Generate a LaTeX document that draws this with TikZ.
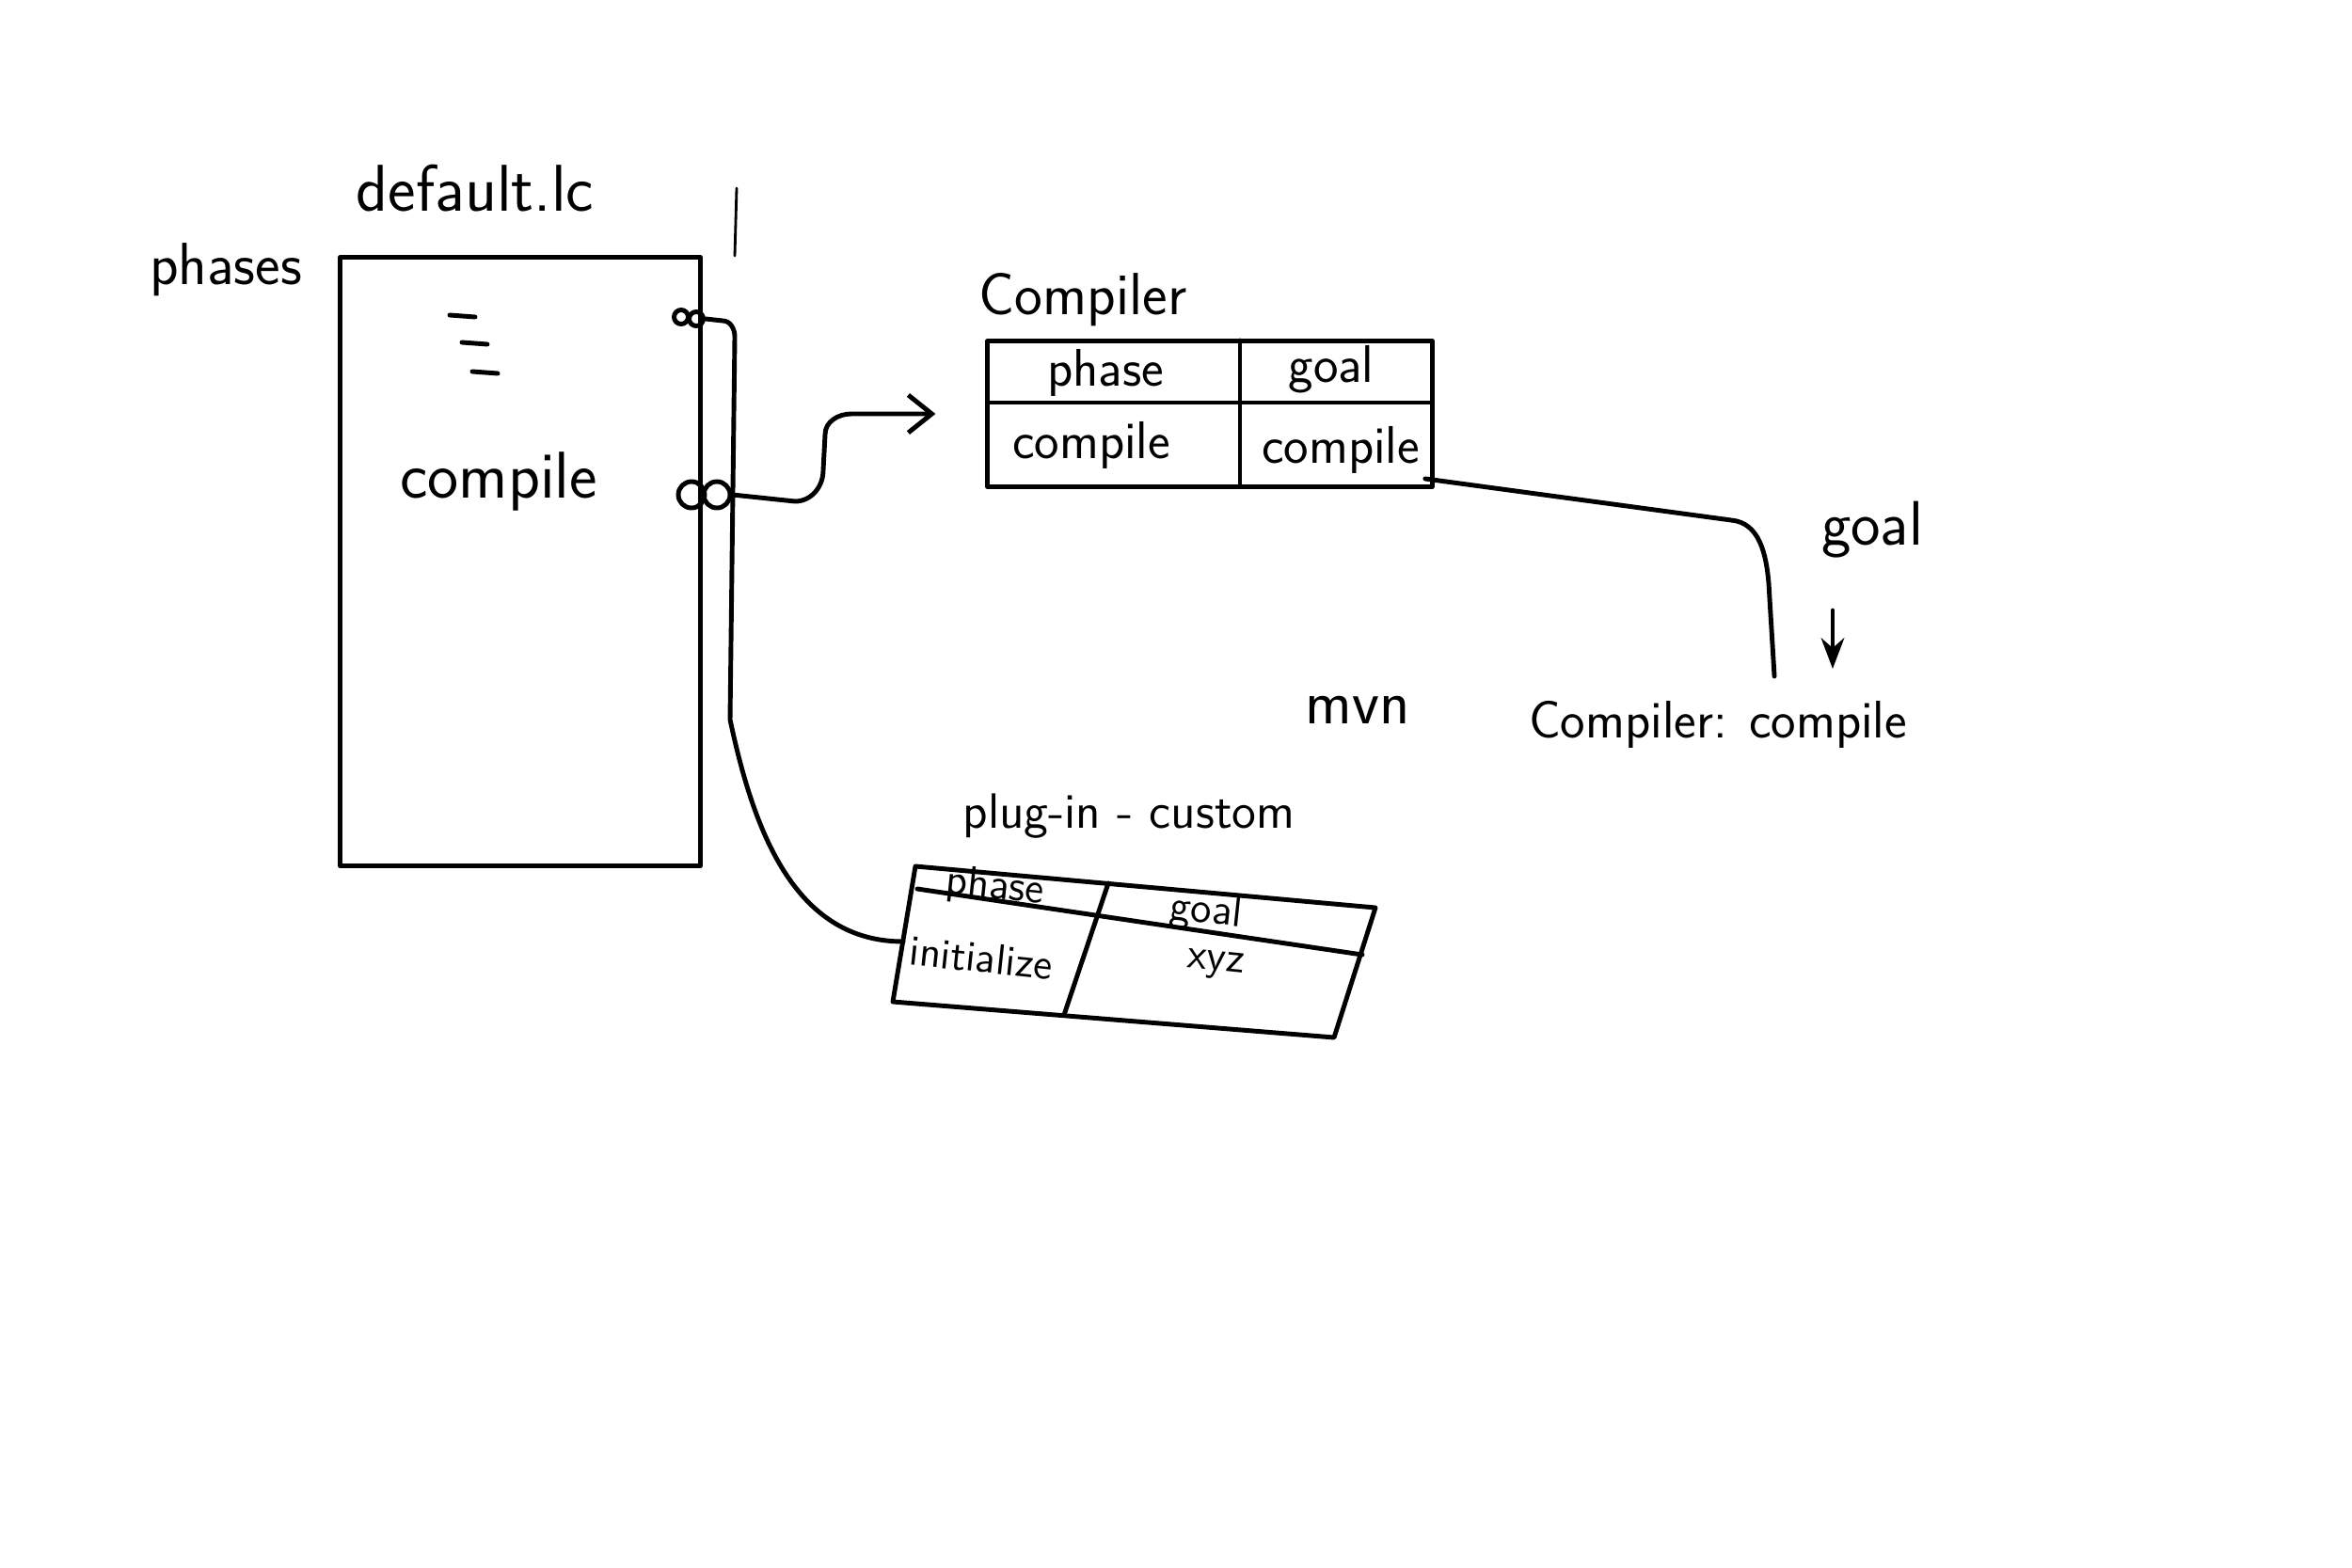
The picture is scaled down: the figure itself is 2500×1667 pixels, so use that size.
\documentclass[tikz,border=0pt]{standalone}
\usetikzlibrary{arrows.meta}
\tikzset{
  pen/.style={line width=1.4pt, line cap=round, line join=round},
  lbl/.style={font=\sffamily\fontsize{18}{21}\selectfont, inner sep=1pt},
  biglbl/.style={font=\sffamily\fontsize{20}{24}\selectfont, inner sep=1pt},
  cell/.style={font=\sffamily\fontsize{16}{19}\selectfont, inner sep=1pt},
  pcell/.style={font=\sffamily\fontsize{13}{15}\selectfont, inner sep=1pt, rotate=-6},
  knot/.style={circle, draw, inner sep=0pt},
}
\begin{document}
\begin{tikzpicture}[x=0.01cm, y=-0.01cm, pen]
  \useasboundingbox (0,0) rectangle (2500,1667);

  \node[biglbl] (lcname) at (505,200) {default.lc};
  \node[lbl] (phases) at (240,287) {phases};
  \node[draw, minimum width=3.83cm, minimum height=6.46cm] (lcbox) at (553,597) {};
  \node[biglbl] (phcompile) at (530,512) {compile};
  \foreach \x/\y in {478/335, 491/364, 502/395}
    \draw (\x,\y) -- ++(27,2);
  \draw[line width=0.8pt] (783,200) -- (781,272);

  \node[knot, minimum size=1.5mm] (k1a) at (724,337) {};
  \node[knot, minimum size=1.5mm] (k1b) at (740,339) {};
  \node[knot, minimum size=2.8mm] (k2a) at (735,526) {};
  \node[knot, minimum size=2.8mm] (k2b) at (762,526) {};

  \node[lbl] (cname) at (1151,319) {Compiler};
  \node[draw, minimum width=4.72cm, minimum height=1.55cm] (ctab) at (1286,440) {};
  \draw (1318,362) -- (1318,517);
  \draw (1050,428) -- (1522,428);
  \node[cell] (cph) at (1175,396) {phase};
  \node[cell] (cgo) at (1415,393) {goal};
  \node[cell] (cphv) at (1160,473) {compile};
  \node[cell] (cgov) at (1425,478) {compile};

  \node[lbl, font=\sffamily\fontsize{15}{18}\selectfont] (pname) at (1200,868) {plug-in - custom};
  \coordinate (pTL) at (973,921);
  \coordinate (pTR) at (1462,965);
  \coordinate (pBR) at (1418,1103);
  \coordinate (pBL) at (949,1065);
  \coordinate (pleft) at (960,1001);
  \draw (pTL) -- (pTR) -- (pBR) -- (pBL) -- cycle;
  \draw (975,945) -- (1448,1015);
  \draw (1178,939) -- (1131,1079);
  \node[pcell] (pph) at (1058,944) {phase};
  \node[pcell] (pgo) at (1282,970) {goal};
  \node[pcell] (pphv) at (1043,1018) {initialize};
  \node[pcell] (pgov) at (1292,1026) {xyz};

  \node[lbl, font=\sffamily\fontsize{19}{22}\selectfont] (goal) at (1990,563) {goal};
  \node[lbl, font=\sffamily\fontsize{16}{19}\selectfont] (ccall) at (1826,770) {Compiler: compile};
  \node[lbl, font=\sffamily\fontsize{19}{22}\selectfont] (mvn) at (1443,755) {mvn};

  \draw[-{Straight Barb[length=2.5mm, width=4mm]}, shorten >=5.3mm]
    (k2b.east) -- (845,533) to[out=0,in=-90] (875,500) -- (877,462)
    to[out=90,in=180] (905,440) -- (ctab.west);
  \draw (k1b.east) -- (768,341) to[out=0,in=90] (781,358) -- (776,765)
    to[out=-78,in=180] (pleft);
  \draw (cgov.south east) -- (1840,553) to[out=-5,in=95] (1880,620)
    -- ([xshift=0.6cm,yshift=0.2cm]ccall.north);
  \draw[-Stealth] ([xshift=-0.42cm,yshift=-0.5cm]goal.south) -- ++(0,62);
\end{tikzpicture}
\end{document}
